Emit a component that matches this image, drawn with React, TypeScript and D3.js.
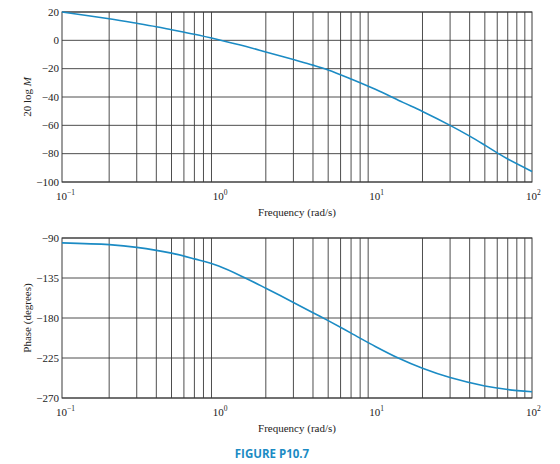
import React from 'react'
import { scaleLog, scaleLinear, line, curveCatmullRom } from 'd3'

// values
const magFreqs = [0.1, 0.2, 0.3, 0.4, 0.5, 0.7, 1, 1.5, 2, 3, 4, 5, 7, 10, 15, 20, 30, 40, 50, 60, 70, 100]
const magDb = [20, 15.2, 12, 9.6, 7.5, 4.3, 0.4, -4.4, -8.2, -13.6, -17.5, -20.9, -27.3, -34.6, -43.8, -50.2, -60, -67.6, -74, -79.4, -83.8, -92.6]

const phaseFreqs = [0.1, 0.2, 0.3, 0.5, 0.7, 1, 1.5, 2, 3, 4, 5, 7, 10, 14, 20, 30, 50, 70, 100]
const phaseDeg = [-95.5, -97.5, -100.5, -107, -113.5, -121.5, -135.5, -146.5, -162.5, -174, -183, -197, -212, -225, -236.5, -247, -256.5, -260.5, -263]

const magTicks = [20, 0, -20, -40, -60, -80, -100]
const phaseTicks = [-90, -135, -180, -225, -270]
const decades = [{ v: 0.1, exp: '\u22121' }, { v: 1, exp: '0' }, { v: 10, exp: '1' }, { v: 100, exp: '2' }]

const W = 560
const H = 464
const left = 62
const right = 532
const curveColor = '#1b8bc4'
const gridColor = '#3a3a3a'
const serif = '"Liberation Serif", "Times New Roman", serif'

const minorGrid: number[] = []
for (const d of [0.1, 1, 10]) {
  for (let k = 2; k <= 9; k++) minorGrid.push(d * k)
}

const fmt = (v: number) => (v < 0 ? '\u2212' + Math.abs(v) : String(v))

type PanelProps = {
  top: number
  bottom: number
  domain: [number, number]
  ticks: number[]
  freqs: number[]
  values: number[]
  ylabel: React.ReactNode
}

const Panel = ({ top, bottom, domain, ticks, freqs, values, ylabel }: PanelProps) => {
  const x = scaleLog().domain([0.1, 100]).range([left, right])
  const y = scaleLinear().domain(domain).range([bottom, top])
  const path = line<number>()
    .x((d, i) => x(freqs[i]))
    .y(d => y(d))
    .curve(curveCatmullRom.alpha(0.5))(values)

  return (
    <g>
      {minorGrid.map(f => (
        <line key={'v' + f} x1={x(f)} x2={x(f)} y1={top} y2={bottom} stroke={gridColor} strokeWidth={0.9} />
      ))}
      {ticks.map(t => (
        <line key={'h' + t} x1={left} x2={right} y1={y(t)} y2={y(t)} stroke={gridColor} strokeWidth={0.9} />
      ))}
      <rect x={left} y={top} width={right - left} height={bottom - top} fill="none" stroke={gridColor} strokeWidth={1} />
      <path d={path || ''} fill="none" stroke={curveColor} strokeWidth={1.6} />
      {ticks.map(t => (
        <text key={'l' + t} x={left - 3} y={y(t) + 3.8} textAnchor="end" fontSize={11} fontFamily={serif} fill="#222">
          {fmt(t)}
        </text>
      ))}
      {decades.map(d => (
        <text key={'d' + d.v} x={x(d.v) - 6} y={bottom + 18} fontSize={11} fontFamily={serif} fill="#222">
          10
          <tspan dy={-5} fontSize={7.5}>{d.exp}</tspan>
        </text>
      ))}
      <text x={(left + right) / 2} y={bottom + 34} textAnchor="middle" fontSize={11} fontFamily={serif} fill="#222">
        Frequency (rad/s)
      </text>
      <text
        transform={`translate(31,${(top + bottom) / 2}) rotate(-90)`}
        textAnchor="middle"
        fontSize={11}
        fontFamily={serif}
        fill="#222"
      >
        {ylabel}
      </text>
    </g>
  )
}

export default function App() {
  return (
    <svg width={W} height={H} style={{ position: 'absolute', left: 0, top: 0, background: '#fff' }}>
      <rect width={W} height={H} fill="#fff" />
      <Panel
        top={12}
        bottom={182}
        domain={[-100, 20]}
        ticks={magTicks}
        freqs={magFreqs}
        values={magDb}
        ylabel={<>20 log <tspan fontStyle="italic">M</tspan></>}
      />
      <Panel
        top={238}
        bottom={398}
        domain={[-270, -90]}
        ticks={phaseTicks}
        freqs={phaseFreqs}
        values={phaseDeg}
        ylabel="Phase (degrees)"
      />
      <text x={272} y={458} textAnchor="middle" fontSize={11.5} fontWeight="bold" fontFamily='"Open Sans", sans-serif' fill={curveColor}>
        FIGURE P10.7
      </text>
    </svg>
  )
}
